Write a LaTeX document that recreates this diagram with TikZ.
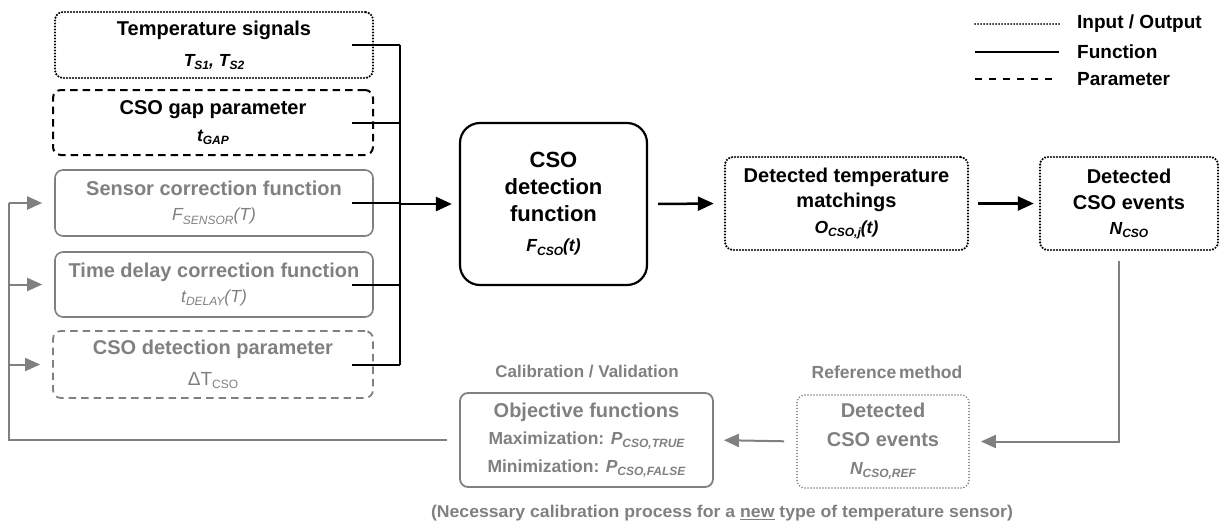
\documentclass[tikz,border=0pt]{standalone}
\usepackage{fontspec}
\setmainfont{Liberation Sans}
\usetikzlibrary{arrows.meta,calc}
\definecolor{gr}{RGB}{128,128,128}
\newcommand{\lo}[1]{\raisebox{-0.35ex}{\fontsize{12}{12}\selectfont #1}}
\newcommand{\sm}{\fontsize{17.5}{17.5}\selectfont}
\begin{document}
\begin{tikzpicture}[x=1pt,y=-1pt,
  base/.style={align=center, inner sep=0pt, rounded corners=8pt, font=\bfseries\fontsize{20}{26}\selectfont},
  iobox/.style={base, draw, line width=2.4pt, line cap=round, dash pattern=on 0pt off 3pt},
  fnbox/.style={base, draw, line width=1.8pt},
  parbox/.style={base, draw, line width=2pt, dash pattern=on 7.5pt off 5pt},
  grayb/.style={draw=gr, text=gr},
  bline/.style={line width=2pt, black},
  barrow/.style={line width=2.5pt, -{Triangle[length=16pt,width=14pt]}},
  gline/.style={line width=2pt, gr},
  garrow/.style={gline, -{Triangle[length=15pt,width=13pt]}},
  lbl/.style={inner sep=0pt, text=gr, font=\bfseries\fontsize{17}{17}\selectfont},
  legtxt/.style={anchor=west, inner sep=0pt, font=\bfseries\fontsize{19}{19}\selectfont}
]
\useasboundingbox (0,0) rectangle (1224,523);

% left column
\node[iobox, minimum width=318pt, minimum height=66pt, font=\bfseries\fontsize{20}{31}\selectfont] (ts) at (214,45)
  {Temperature signals\\{\sm\itshape T\lo{S1}, T\lo{S2}}};
\node[parbox, minimum width=320pt, minimum height=65pt, font=\bfseries\fontsize{20}{27}\selectfont] (gap) at (213,122.5)
  {CSO gap parameter\\{\sm\itshape t\lo{GAP}}};
\node[fnbox, grayb, line width=1.6pt, minimum width=318pt, minimum height=66pt, font=\bfseries\fontsize{20}{25}\selectfont] (sens) at (214,203)
  {Sensor correction function\\{\sm\itshape\mdseries F\lo{SENSOR}(T)}};
\node[fnbox, grayb, line width=1.6pt, minimum width=318pt, minimum height=65pt, font=\bfseries\fontsize{20}{25}\selectfont] (delay) at (214,284.5)
  {Time delay correction function\\{\sm\itshape\mdseries t\lo{DELAY}(T)}};
\node[parbox, grayb, line width=1.8pt, minimum width=320pt, minimum height=67pt, font=\bfseries\fontsize{20}{31}\selectfont] (dpar) at (213,364.5)
  {CSO detection parameter\\{\fontsize{19}{19}\selectfont\mdseries ΔT\lo{CSO}}};

% center / right
\node[fnbox, line width=2.2pt, rounded corners=20pt, minimum width=187pt, minimum height=162pt, font=\bfseries\fontsize{22}{27}\selectfont] (cso) at (553.5,204)
  {CSO\\detection\\function\\[3pt]{\sm\itshape F\lo{CSO}(t)}};
\node[iobox, minimum width=243pt, minimum height=93pt, font=\bfseries\fontsize{20}{25.5}\selectfont] (dtm) at (846.5,203.5)
  {Detected temperature\\matchings\\{\sm\itshape O\lo{CSO,j}(t)}};
\node[iobox, minimum width=178pt, minimum height=93pt, font=\bfseries\fontsize{20}{25.5}\selectfont] (ev) at (1129,203.5)
  {Detected\\CSO events\\{\sm\itshape N\lo{CSO}}};

% bottom
\node[iobox, grayb, line width=1.8pt, minimum width=172pt, minimum height=93pt, font=\bfseries\fontsize{20}{28.5}\selectfont] (ref) at (883,441.5)
  {Detected\\CSO events\\{\sm\itshape N\lo{CSO,REF}}};
\node[fnbox, grayb, line width=1.8pt, minimum width=253pt, minimum height=94pt, font=\bfseries\fontsize{20}{27.5}\selectfont] (obj) at (586.5,440)
  {Objective functions\\{\sm Maximization: {\itshape P\lo{CSO,TRUE}}}\\{\sm Minimization: {\itshape P\lo{CSO,FALSE}}}};

\node[lbl] (cal) at (587,372) {Calibration / Validation};
\node[lbl, font=\bfseries\fontsize{17.5}{17.5}\selectfont] (refm) at (887,372) {Reference\,method};
\node[lbl] (foot) at (722,513) {\resizebox{582pt}{\height}{(Necessary calibration process for a \underline{new} type of temperature sensor)}};

% legend
\coordinate (l1a) at (975,24); \coordinate (l1b) at (1059,24);
\coordinate (l2a) at (975,52); \coordinate (l2b) at (1059,52);
\coordinate (l3a) at (975,79); \coordinate (l3b) at (1059,79);
\draw[line width=2pt, line cap=round, dash pattern=on 0pt off 3pt] (l1a) -- (l1b);
\draw[line width=2pt] (l2a) -- (l2b);
\draw[line width=2pt, dash pattern=on 7pt off 7pt] (l3a) -- (l3b);
\node[legtxt] (lt1) at (1077,24) {Input / Output};
\node[legtxt] (lt2) at (1077,52) {Function};
\node[legtxt] (lt3) at (1077,79) {Parameter};

% bus
\coordinate (busx) at (400,0);
\foreach \n in {ts,gap,sens,delay,dpar}
  \draw[bline] ($(\n.east)+(-22,0)$) -- (busx |- \n.east);
\draw[bline] (busx |- ts.east) -- (busx |- dpar.east);
\draw[barrow, shorten >=7pt] (busx |- cso.west) -- (cso.west);
\draw[barrow, shorten <=10pt, shorten >=10pt] (cso.east) -- (dtm.west);
\draw[barrow, shorten <=9pt, shorten >=5pt] (dtm.east) -- (ev.west);

% gray feedback
\coordinate (evd) at ($(ev.south)+(-10,0)$);
\draw[garrow, shorten <=10pt, shorten >=11pt] (evd) |- (ref.east);
\draw[garrow, shorten <=12pt, shorten >=10pt] (ref.west) -- (obj.east);
\coordinate (fbx) at (9,0);
\draw[gline, shorten <=12pt] (obj.west) -| (fbx |- sens.west);
\foreach \n in {sens,delay,dpar}
  \draw[garrow, shorten >=12pt] (fbx |- \n.west) -- (\n.west);
\end{tikzpicture}
\end{document}
